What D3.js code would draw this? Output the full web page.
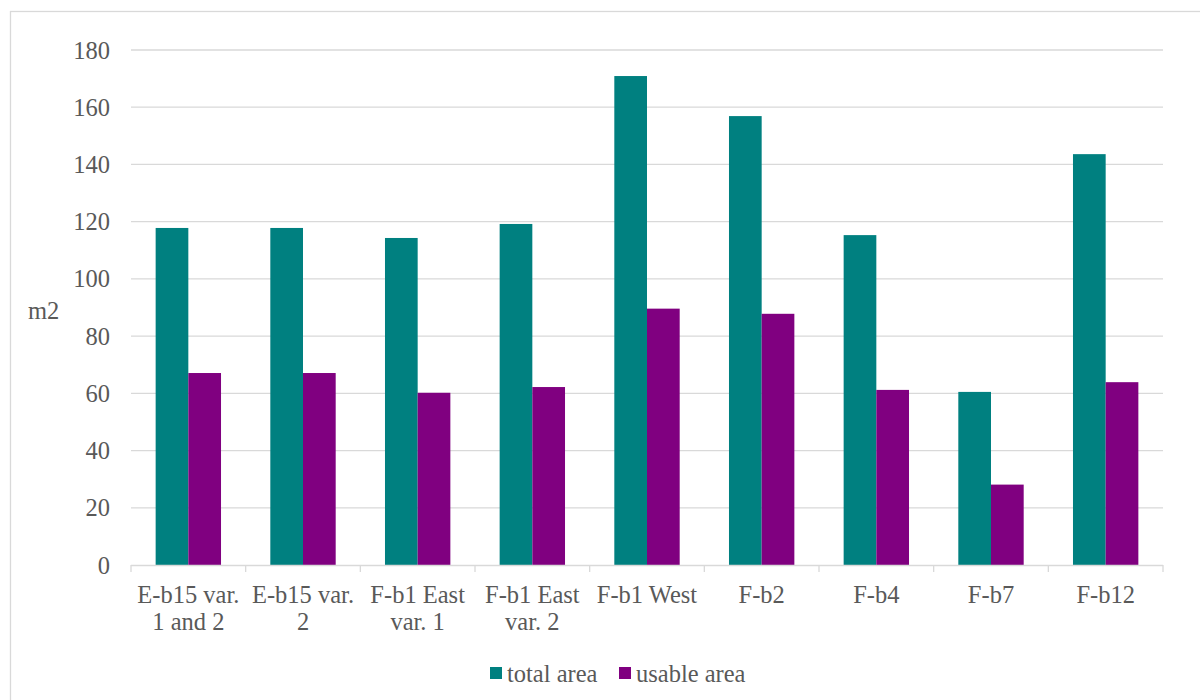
<!DOCTYPE html>
<html>
<head>
<meta charset="utf-8">
<script src="https://cdn.jsdelivr.net/npm/d3@7"></script>
<style>
  body { margin: 0; background: #fff; }
  text { font-family: "Liberation Serif", "Times New Roman", Times, serif; fill: #595959; }
</style>
</head>
<body>
<div id="chart"></div>
<script>
// chart data
var categories = ["E-b15 var. 1 and 2", "E-b15 var. 2", "F-b1 East var. 1", "F-b1 East var. 2",
                  "F-b1 West", "F-b2", "F-b4", "F-b7", "F-b12"];
var seriesNames = ["total area", "usable area"];
var totalArea = [117.8, 117.8, 114.3, 119.2, 170.9, 156.9, 115.3, 60.5, 143.6];
var usableArea = [67.1, 67.1, 60.2, 62.2, 89.6, 87.8, 61.2, 28.1, 63.9];
var yTicks = [0, 20, 40, 60, 80, 100, 120, 140, 160, 180];
var yLabel = "m2";

var colors = {"total area": "#008080", "usable area": "#800080"};

var W = 1200, H = 700;
var plotL = 131, plotR = 1163, plotT = 50, plotB = 565;
var FS = "24.5px";

var svg = d3.select("#chart").append("svg")
  .attr("width", W).attr("height", H);

// chart frame
svg.append("rect")
  .attr("x", 10.5).attr("y", 11.5)
  .attr("width", W + 20).attr("height", H + 20)
  .attr("fill", "none").attr("stroke", "#d9d9d9").attr("stroke-width", 1.3);

var x = d3.scaleBand().domain(categories).range([plotL, plotR]).padding(0);
var xs = d3.scaleBand().domain(seriesNames).range([0, x.bandwidth()])
  .paddingInner(0).paddingOuter(0.754);
var y = d3.scaleLinear().domain([0, 180]).range([plotB, plotT]);

// gridlines
svg.append("g").selectAll("line")
  .data(yTicks.filter(function(d){ return d > 0; }))
  .enter().append("line")
  .attr("x1", plotL).attr("x2", plotR)
  .attr("y1", function(d){ return y(d); })
  .attr("y2", function(d){ return y(d); })
  .attr("stroke", "#d9d9d9").attr("stroke-width", 1.3);

// y tick labels
svg.append("g").selectAll("text")
  .data(yTicks).enter().append("text")
  .attr("x", 110).attr("y", function(d){ return y(d); })
  .attr("dy", "0.35em")
  .attr("text-anchor", "end")
  .style("font-size", FS)
  .text(function(d){ return d; });

svg.append("text")
  .attr("x", 28).attr("y", 310).attr("dy", "0.35em")
  .style("font-size", FS)
  .text(yLabel);

// bars
var rows = categories.map(function(c, i){
  return {cat: c, values: [
    {name: "total area", value: totalArea[i]},
    {name: "usable area", value: usableArea[i]}
  ]};
});

var groups = svg.append("g").selectAll("g")
  .data(rows).enter().append("g")
  .attr("transform", function(d){ return "translate(" + x(d.cat) + ",0)"; });

groups.selectAll("rect")
  .data(function(d){ return d.values; })
  .enter().append("rect")
  .attr("x", function(d){ return xs(d.name); })
  .attr("width", xs.bandwidth())
  .attr("y", function(d){ return y(d.value); })
  .attr("height", function(d){ return y(0) - y(d.value); })
  .attr("fill", function(d){ return colors[d.name]; });

// x axis line + ticks
var xAxis = svg.append("g");
xAxis.append("line")
  .attr("x1", plotL).attr("x2", plotR)
  .attr("y1", plotB + 0.5).attr("y2", plotB + 0.5)
  .attr("stroke", "#d9d9d9").attr("stroke-width", 1.3);
xAxis.selectAll(".tk")
  .data(d3.range(categories.length + 1))
  .enter().append("line")
  .attr("class", "tk")
  .attr("x1", function(i){ return plotL + i * x.step(); })
  .attr("x2", function(i){ return plotL + i * x.step(); })
  .attr("y1", plotB).attr("y2", plotB + 7)
  .attr("stroke", "#d9d9d9").attr("stroke-width", 1.3);

// category labels, wrapped
var catLabels = xAxis.selectAll(".cl")
  .data(categories).enter().append("text")
  .attr("class", "cl")
  .attr("text-anchor", "middle")
  .style("font-size", FS)
  .attr("x", function(d){ return x(d) + x.bandwidth() / 2; })
  .attr("y", 603);

catLabels.each(function(d){
  var t = d3.select(this);
  var cx = x(d) + x.bandwidth() / 2;
  var words = d.split(" "), line = [];
  var tspan = t.append("tspan").attr("x", cx).attr("dy", 0);
  words.forEach(function(w){
    line.push(w);
    tspan.text(line.join(" "));
    if (tspan.node().getComputedTextLength() > 110 && line.length > 1) {
      line.pop();
      tspan.text(line.join(" "));
      line = [w];
      tspan = t.append("tspan").attr("x", cx).attr("dy", "27px").text(w);
    }
  });
});

// legend
var legendX = [490, 619];
var legend = svg.append("g").selectAll("g")
  .data(seriesNames).enter().append("g")
  .attr("transform", function(d, i){ return "translate(" + legendX[i] + ",667)"; });
legend.append("rect")
  .attr("width", 12).attr("height", 12)
  .attr("fill", function(d){ return colors[d]; });
legend.append("text")
  .attr("x", 17).attr("y", 6).attr("dy", "0.35em")
  .style("font-size", FS)
  .text(function(d){ return d; });
</script>
</body>
</html>
